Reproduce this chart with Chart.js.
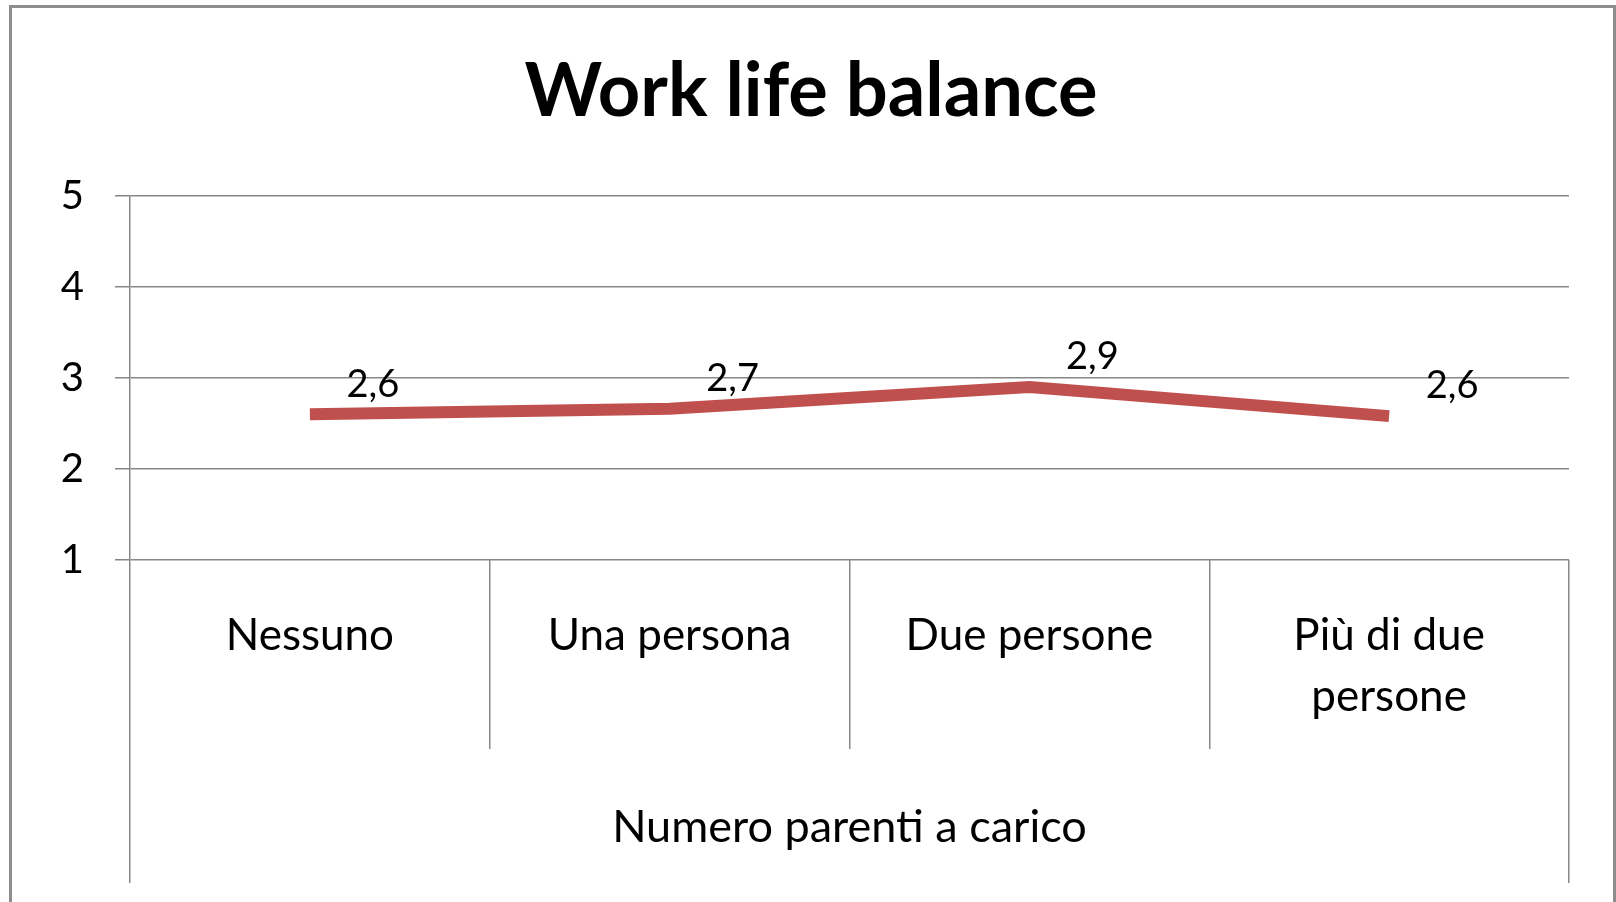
<!DOCTYPE html>
<html lang="it">
<head>
<meta charset="utf-8">
<title>Work life balance</title>
<script src="https://cdn.jsdelivr.net/npm/chart.js@4"></script>
<style>
  html, body { margin: 0; padding: 0; background: #fff; overflow: hidden; }
  #cadre {
    position: absolute; left: 9px; top: 5px;
    width: 1601px; height: 1000px;
    border: 3px solid #8d8d8d;
  }
  #zone { position: absolute; left: 0; top: 0; width: 1616px; height: 902px; }
</style>
</head>
<body>
<div id="cadre"></div>
<div id="zone"><canvas id="grafico"></canvas></div>
<script>
'use strict';

/* === DATI === */
const TITOLO = 'Work life balance';
const TITOLO_ASSE = 'Numero parenti a carico';
const CATEGORIE = ['Nessuno', 'Una persona', 'Due persone', ['Più di due', 'persone']];
const VALORI = [2.6, 2.66, 2.9, 2.58];
const TICK_Y = [1, 2, 3, 4, 5];

/* === STILE === */
const FONT = 'Lato, "Open Sans", sans-serif';
const GRIGIO = '#878787';
const ROSSO = '#C0504D';

function formattaValore(v) {
  return v.toFixed(1).replace('.', ',');
}

// etichette dati a destra del punto, come in Excel
const etichetteDati = {
  id: 'etichetteDati',
  afterDatasetsDraw(chart) {
    const ctx = chart.ctx;
    const meta = chart.getDatasetMeta(0);
    ctx.save();
    ctx.font = '38px ' + FONT;
    ctx.fillStyle = '#000';
    ctx.textAlign = 'center';
    ctx.textBaseline = 'middle';
    meta.data.forEach((p, i) => {
      ctx.fillText(formattaValore(VALORI[i]), p.x + 63, p.y - 30);
    });
    ctx.restore();
  }
};

new Chart(document.getElementById('grafico'), {
  type: 'line',
  data: {
    labels: CATEGORIE,
    datasets: [{
      data: VALORI,
      xAxisID: 'x',
      yAxisID: 'y',
      borderColor: ROSSO,
      borderWidth: 12,
      borderCapStyle: 'butt',
      borderJoinStyle: 'miter',
      pointRadius: 0,
      tension: 0
    }]
  },
  options: {
    responsive: true,
    maintainAspectRatio: false,
    animation: false,
    layout: { padding: { left: 53, right: 47, top: 0, bottom: 19 } },
    plugins: {
      legend: { display: false },
      tooltip: { enabled: false },
      title: {
        display: true,
        text: TITOLO,
        color: '#000',
        font: { family: FONT, size: 74, weight: 'bold', lineHeight: 1.2 },
        padding: { top: 48, bottom: 59 }
      }
    },
    scales: {
      x: {
        type: 'category',
        weight: 0,
        offset: true,
        afterFit: s => { s.height = 189; },
        grid: {
          offset: true,
          drawOnChartArea: false,
          drawTicks: true,
          tickLength: 189,
          color: GRIGIO,
          lineWidth: 1.5
        },
        border: { display: false },
        ticks: {
          color: '#000',
          font: { family: FONT, size: 44, lineHeight: '61px' },
          padding: -144,
          maxRotation: 0,
          autoSkip: false
        }
      },
      x2: {
        type: 'category',
        position: 'bottom',
        weight: 1,
        labels: [TITOLO_ASSE],
        offset: true,
        afterFit: s => { s.height = 134; },
        grid: {
          offset: true,
          drawOnChartArea: false,
          drawTicks: true,
          tickLength: 134,
          color: GRIGIO,
          lineWidth: 1.5
        },
        border: { display: false },
        ticks: {
          color: '#000',
          font: { family: FONT, size: 45, lineHeight: '61px' },
          padding: -86,
          maxRotation: 0
        }
      },
      y: {
        min: TICK_Y[0],
        max: TICK_Y[TICK_Y.length - 1],
        afterFit: s => { s.width = 77; },
        afterBuildTicks: s => { s.ticks = TICK_Y.map(v => ({ value: v })); },
        grid: {
          color: GRIGIO,
          lineWidth: 1.5,
          drawTicks: true,
          tickLength: 15
        },
        border: { display: true, color: GRIGIO, width: 1.5 },
        ticks: {
          color: '#000',
          font: { family: FONT, size: 40 },
          padding: 31
        }
      }
    }
  },
  plugins: [etichetteDati]
});
</script>
</body>
</html>
